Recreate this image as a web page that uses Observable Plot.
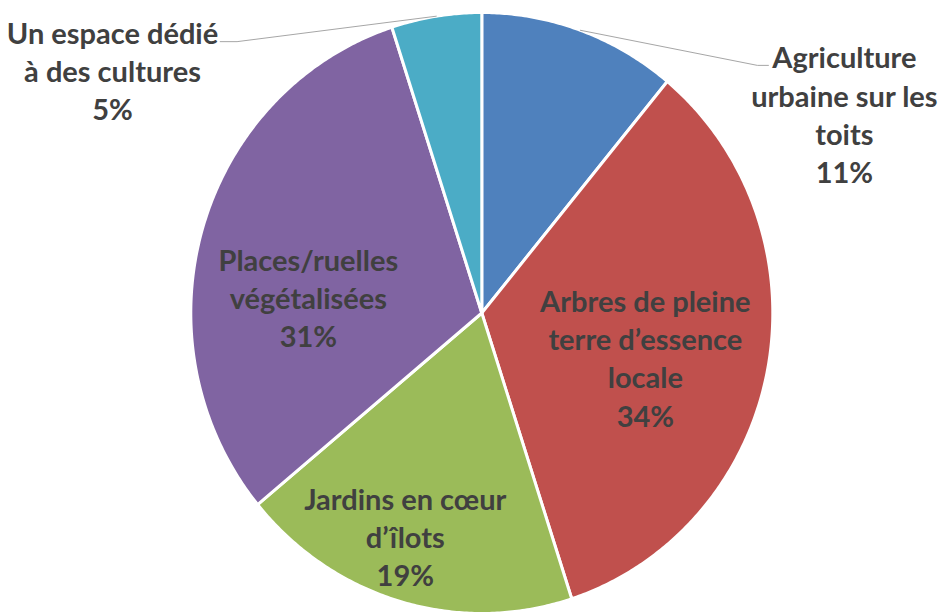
<!DOCTYPE html>
<html>
<head>
<meta charset="utf-8">
<script src="https://cdn.jsdelivr.net/npm/d3@7"></script>
<script src="https://cdn.jsdelivr.net/npm/@observablehq/plot@0.6"></script>
<style>
  html, body { margin: 0; padding: 0; background: #ffffff; }
  #chart { width: 943px; height: 616px; }
</style>
</head>
<body>
<div id="chart"></div>
<script>
// ---- Data ----
const categories = [
  "Agriculture urbaine sur les toits",
  "Arbres de pleine terre d’essence locale",
  "Jardins en cœur d’îlots",
  "Places/ruelles végétalisées",
  "Un espace dédié à des cultures"
];
const shares = [11, 34, 19, 31, 5];
const labelLines = [
  "Agriculture\nurbaine sur les\ntoits",
  "Arbres de pleine\nterre d’essence\nlocale",
  "Jardins en cœur\nd’îlots",
  "Places/ruelles\nvégétalisées",
  "Un espace dédié\nà des cultures"
];
const colors = ["#4F81BD", "#C0504D", "#9BBB59", "#8064A2", "#4BACC6"];

// ---- Layout (unit-circle coordinates) ----
const labelPos = [
  [1.246, 0.664],
  [0.562, -0.146],
  [-0.263, -0.742],
  [-0.596, 0.054],
  [-1.269, 0.810]
];
const leaders = [
  {i: 0, elbow: [0.947, 0.824], end: [0.985, 0.824]},
  {i: 4, elbow: [-0.841, 0.903], end: [-0.899, 0.903]}
];

// ---- Geometry derived from data ----
const total = d3.sum(shares);
let acc = 0;
const slices = categories.map((c, i) => {
  const a0 = acc / total * 2 * Math.PI;
  acc += shares[i];
  const a1 = acc / total * 2 * Math.PI;
  return {c, i, a0, a1, mid: (a0 + a1) / 2};
});
const polyPts = [];
for (const s of slices) {
  polyPts.push({c: s.c, x: 0, y: 0});
  const n = Math.max(2, Math.ceil((s.a1 - s.a0) / (Math.PI / 360)));
  for (let k = 0; k <= n; k++) {
    const a = s.a0 + (s.a1 - s.a0) * k / n;
    polyPts.push({c: s.c, x: Math.sin(a), y: Math.cos(a)});
  }
  polyPts.push({c: s.c, x: 0, y: 0});
}
const leaderPts = [];
for (const L of leaders) {
  const s = slices[L.i];
  leaderPts.push({c: s.c, x: Math.sin(s.mid), y: Math.cos(s.mid)});
  leaderPts.push({c: s.c, x: L.elbow[0], y: L.elbow[1]});
  leaderPts.push({c: s.c, x: L.end[0], y: L.end[1]});
}
const labels = categories.map((c, i) => ({
  c,
  text: labelLines[i] + "\n" + shares[i] + "%",
  x: labelPos[i][0],
  y: labelPos[i][1]
}));

const plot = Plot.plot({
  width: 943,
  height: 616,
  margin: 0,
  x: {domain: [-481.3 / 291, (943 - 481.3) / 291], axis: null},
  y: {domain: [(312.5 - 616) / 300.5, 312.5 / 300.5], axis: null},
  color: {domain: categories, range: colors},
  style: {background: "#ffffff"},
  marks: [
    Plot.line(polyPts, {x: "x", y: "y", z: "c", fill: "c", stroke: "#ffffff", strokeWidth: 3, strokeLinejoin: "round", curve: "linear"}),
    Plot.line(leaderPts, {x: "x", y: "y", z: "c", stroke: "#a6a6a6", strokeWidth: 1}),
    Plot.text(labels, {
      x: "x", y: "y", text: "text",
      fill: "#404040",
      fontSize: 29,
      fontWeight: "bold",
      fontFamily: "Lato",
      lineHeight: 1.32,
      textAnchor: "middle"
    })
  ]
});
document.getElementById("chart").appendChild(plot);
</script>
</body>
</html>
